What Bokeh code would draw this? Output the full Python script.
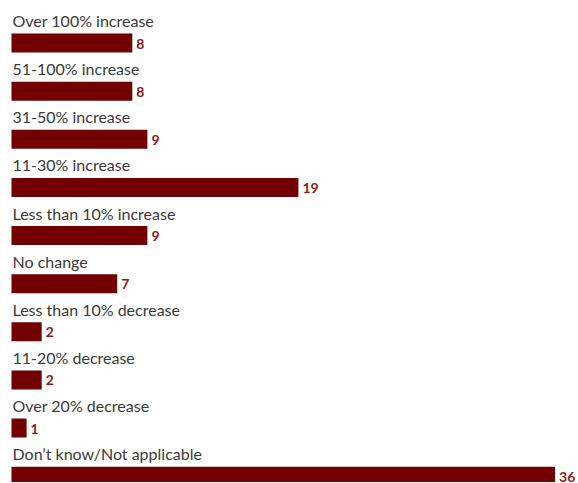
from bokeh.plotting import figure
from bokeh.models import Range1d, ColumnDataSource
from bokeh.embed import file_html
from bokeh.resources import INLINE
from bokeh.core.properties import value

categories = [
    "Over 100% increase",
    "51-100% increase",
    "31-50% increase",
    "11-30% increase",
    "Less than 10% increase",
    "No change",
    "Less than 10% decrease",
    "11-20% decrease",
    "Over 20% decrease",
    "Don\u2019t know/Not applicable",
]
values = [8, 8, 9, 19, 9, 7, 2, 2, 1, 36]

W, H = 576, 482
px_per_unit = 15.1
row_px = 48.125
x0_px = 11
row0_px = 42.5

idx = list(range(len(values)))
src = ColumnDataSource(dict(
    y=idx,
    v=values,
    cat=categories,
    lab=[str(v) for v in values],
    ylab=[i - (9.5 + 13) / row_px for i in idx],
    yval=[i + 0.5 / row_px for i in idx],
))

p = figure(width=W, height=H, output_backend="svg", toolbar_location=None,
           min_border=0, min_border_left=0, min_border_right=0,
           min_border_top=0, min_border_bottom=0)
p.x_range = Range1d(-x0_px / px_per_unit, (W - x0_px) / px_per_unit)
p.y_range = Range1d((H - row0_px) / row_px, -row0_px / row_px)
p.axis.visible = False
p.grid.visible = False
p.outline_line_color = None
p.background_fill_color = "white"
p.border_fill_color = "white"

p.hbar(y="y", left=0, right="v", height=19 / row_px, source=src,
       fill_color="#730000", line_color=None)
p.text(x=0, y="ylab", text="cat", source=src, x_offset=1,
       text_font=value("Lato"), text_font_size="16px",
       text_color="#3a3a3a", text_baseline="alphabetic", text_align="left")
p.text(x="v", y="yval", text="lab", source=src, x_offset=4,
       text_font=value("Lato"), text_font_size="14px", text_font_style="bold",
       text_color="#8b1a1a", text_baseline="alphabetic", text_align="left")

open("out.html", "w").write(file_html(p, INLINE))
